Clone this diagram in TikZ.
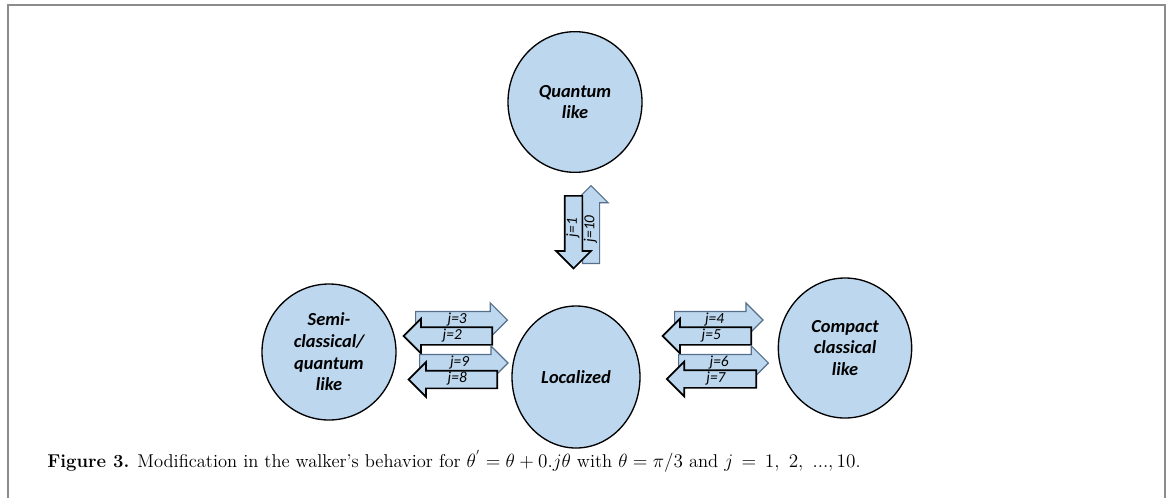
\documentclass[tikz,border=0pt]{standalone}
\usepackage{fontspec}
\newfontfamily\carlito{Carlito}
\usetikzlibrary{shapes.geometric,shapes.arrows}
\definecolor{stateblue}{RGB}{189,215,238}
\definecolor{rimblue}{RGB}{84,110,140}
\definecolor{framegray}{RGB}{140,140,140}
\begin{document}
\begin{tikzpicture}[x=0.75pt, y=-0.75pt,
    state/.style = {draw, ellipse, fill=stateblue, line width=1pt, inner sep=0pt, align=center,
        font=\carlito\bfseries\itshape\fontsize{13.8}{16.2}\selectfont},
    arw/.style = {single arrow, fill=stateblue, anchor=tail, inner xsep=0pt, inner ysep=1.5pt,
        text height=7pt, text depth=2pt, single arrow head extend=6.4pt, align=center,
        font=\carlito\itshape\fontsize{11.5}{11.5}\selectfont},
    fwd/.style = {arw, draw=rimblue, line width=0.9pt},
    bwd/.style = {arw, draw=black, line width=1.3pt, shape border rotate=180}]
    \useasboundingbox (0,0) rectangle (1171,497);
    \draw[framegray, line width=1.5pt] (8,510) -- (8,5) -- (1165,5) -- (1165,510);
    % the four regimes
    \node[state, minimum width=100.5pt, minimum height=105.5pt] (q) at (575,102) {Quantum\\like};
    \node[state, minimum width=96pt, minimum height=106.5pt] (l) at (576,377) {Localized};
    \node[state, minimum width=100.5pt, minimum height=102pt] (s) at (329,352) {Semi-\\classical/\\quantum\\like};
    \node[state, minimum width=100pt, minimum height=105pt] (c) at (845,348) {Compact\\classical\\like};
    % transitions
    \node[fwd, rotate=90, text width=51pt] (a10) at (591,264) {j=10};
    \node[bwd, rotate=90, text width=46.5pt] (a1) at (573.5,195) {j=1};
    \node[fwd, text width=61.5pt] (a3) at (415,320) {j=3};
    \node[bwd, text width=58.5pt] (a2) at (493,336) {j=2};
    \node[fwd, text width=59pt] (a9) at (419,363) {j=9};
    \node[bwd, text width=58.5pt] (a8) at (498,379.5) {j=8};
    \node[fwd, text width=59pt] (a4) at (674,320) {j=4};
    \node[bwd, text width=58.5pt] (a5) at (752,336) {j=5};
    \node[fwd, text width=60pt] (a6) at (678,363) {j=6};
    \node[bwd, text width=59pt] (a7) at (757,379) {j=7};
    % caption
    \node[anchor=base west, inner sep=0pt, font=\fontsize{13.9}{16}\selectfont] (cap) at (47,467)
        {\textbf{Figure 3.} Modification in the walker's behavior for $\theta^{'} = \theta + 0.j\theta$ with $\theta = \pi/3$ and $j\,=\,1,\ 2,\ ...,10$.};
\end{tikzpicture}
\end{document}
